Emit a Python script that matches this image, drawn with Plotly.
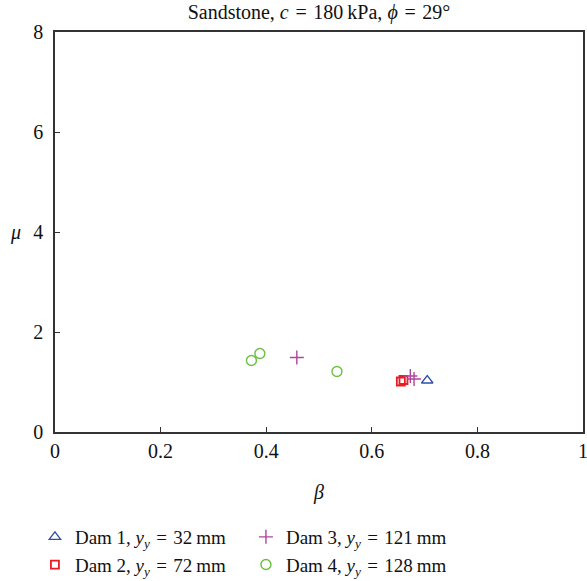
import plotly.graph_objects as go

# Data
dam1_beta = [0.705]
dam1_mu = [1.03]
dam2_beta = [0.655, 0.660]
dam2_mu = [1.01, 1.04]
dam3_beta = [0.458, 0.673, 0.680]
dam3_mu = [1.49, 1.12, 1.06]
dam4_beta = [0.372, 0.388, 0.534]
dam4_mu = [1.43, 1.57, 1.21]

EQ = "\u2004=\u2004"
names = [
    f"Dam 1, <i>y<sub>y</sub></i>{EQ}32\u2009mm",
    f"Dam 2, <i>y<sub>y</sub></i>{EQ}72\u2009mm",
    f"Dam 3, <i>y<sub>y</sub></i>{EQ}121\u2009mm",
    f"Dam 4, <i>y<sub>y</sub></i>{EQ}128\u2009mm",
]
x_ticks = [0, 0.2, 0.4, 0.6, 0.8, 1]
x_ticklabels = ["0", "0.2", "0.4", "0.6", "0.8", "1"]
y_ticks = [0, 2, 4, 6, 8]

FONT = "Liberation Serif, Times New Roman, serif"

fig = go.Figure()
fig.add_trace(go.Scatter(x=dam1_beta, y=dam1_mu, mode="markers", name=names[0], legendrank=1,
                         marker=dict(symbol="triangle-up-open", size=10, color="#2f4fa8",
                                     line=dict(width=1.3))))
fig.add_trace(go.Scatter(x=dam2_beta, y=dam2_mu, mode="markers", name=names[1], legendrank=3,
                         marker=dict(symbol="square-open", size=8, color="#ec1c24",
                                     line=dict(width=1.8))))
fig.add_trace(go.Scatter(x=dam3_beta, y=dam3_mu, mode="markers", name=names[2], legendrank=2,
                         marker=dict(symbol="cross-thin-open", size=10, color="#b0449c",
                                     line=dict(width=1.4, color="#b0449c"))))
fig.add_trace(go.Scatter(x=dam4_beta, y=dam4_mu, mode="markers", name=names[3], legendrank=4,
                         marker=dict(symbol="circle-open", size=10, color="#6cbf3f",
                                     line=dict(width=1.4))))

axis_common = dict(
    showgrid=False, zeroline=False, showline=True, mirror=True,
    linecolor="#333333", linewidth=1.5,
    ticks="inside", ticklen=5, tickcolor="#333333", tickwidth=1,
    tickfont=dict(family=FONT, size=20, color="#111111"),
    ticklabeloverflow="allow",
)

fig.update_layout(
    width=587, height=581,
    margin=dict(l=55, r=4, t=32, b=149, autoexpand=False),
    paper_bgcolor="white", plot_bgcolor="white",
    font=dict(family=FONT, size=18, color="#111111"),
    title=dict(text=f"Sandstone, <i>c</i>{EQ}180\u2009kPa, <i>ϕ</i>{EQ}29°",
               x=(55 + 583) / 2 / 587, xanchor="center", y=1 - 12 / 581, yanchor="middle",
               font=dict(family=FONT, size=20)),
    xaxis=dict(range=[0, 1], tickvals=x_ticks, ticktext=x_ticklabels,
               title=dict(text="<i>β</i>", font=dict(family=FONT, size=20), standoff=24),
               **axis_common),
    yaxis=dict(range=[0, 8], tickvals=y_ticks, ticklabelstandoff=6, **axis_common),
    showlegend=True,
    legend=dict(orientation="h", x=-0.038, xanchor="left", y=-0.215, yanchor="top",
                entrywidth=166, entrywidthmode="pixels",
                font=dict(family=FONT, size=19), itemwidth=30,
                tracegroupgap=0, bgcolor="rgba(0,0,0,0)"),
    annotations=[dict(text="<i>μ</i>", xref="paper", yref="paper",
                      x=(15 - 55) / 528, y=0.5, xanchor="center", yanchor="middle",
                      showarrow=False, font=dict(family=FONT, size=20))],
)

fig.write_html("out.html")
